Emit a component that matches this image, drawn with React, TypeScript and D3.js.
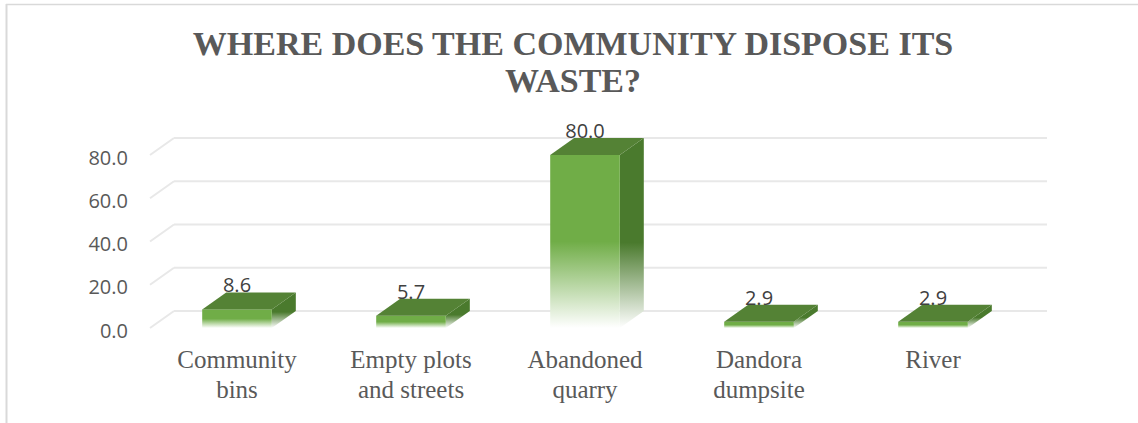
import React from "react";
import * as d3 from "d3";

const categories: string[][] = [
  ["Community", "bins"],
  ["Empty plots", "and streets"],
  ["Abandoned", "quarry"],
  ["Dandora", "dumpsite"],
  ["River"],
];
const values: number[] = [8.6, 5.7, 80.0, 2.9, 2.9];
const yTicks: number[] = [0, 20, 40, 60, 80];
const titleLines: string[] = ["WHERE DOES THE COMMUNITY DISPOSE ITS", "WASTE?"];

const W = 1138;
const H = 423;

// 3D depth offset of the back wall relative to the front plane
const DX = 24;
const DY = -17;

const plotLeft = 150;
const plotRight = 1020;
const wallRight = 1047;

export default function App() {
  const keys = categories.map((c) => c.join(" "));
  const x = d3
    .scaleBand<string>()
    .domain(keys)
    .range([plotLeft, plotRight])
    .paddingInner(0.6)
    .paddingOuter(0.3);
  const y = d3.scaleLinear().domain([0, 80]).range([328, 155]);

  const textGrey = "#595959";
  const fmt = d3.format(".1f");

  return (
    <div style={{ position: "absolute", left: 0, top: 0 }}>
      <svg width={W} height={H} style={{ display: "block", background: "#fff" }}>
        <defs>
          <linearGradient id="frontGrad" x1="0" y1="0" x2="0" y2="1">
            <stop offset="0" stopColor="#70AD47" />
            <stop offset="0.5" stopColor="#70AD47" />
            <stop offset="1" stopColor="#ffffff" />
          </linearGradient>
          <linearGradient id="sideGrad" x1="0" y1="0" x2="0" y2="1">
            <stop offset="0" stopColor="#4A7A2D" />
            <stop offset="0.55" stopColor="#4A7A2D" />
            <stop offset="1" stopColor="#ffffff" />
          </linearGradient>
        </defs>

        {/* chart frame */}
        <line x1={6.5} y1={4} x2={6.5} y2={H} stroke="#D9D9D9" strokeWidth={2} />
        <line x1={6} y1={4.5} x2={W} y2={4.5} stroke="#D9D9D9" strokeWidth={1.5} />

        {/* title */}
        <text
          x={573}
          textAnchor="middle"
          fontFamily="'Liberation Serif', 'Times New Roman', serif"
          fontWeight="bold"
          fontSize={34}
          fill={textGrey}
        >
          {titleLines.map((t, i) => (
            <tspan key={i} x={573} y={55 + i * 37}>
              {t}
            </tspan>
          ))}
        </text>

        {/* gridlines: floor diagonal + back wall */}
        {yTicks.map((t) => (
          <g key={t} stroke="#E8E8E8" strokeWidth={2} fill="none">
            <line x1={plotLeft} y1={y(t)} x2={plotLeft + DX} y2={y(t) + DY} />
            <line x1={plotLeft + DX} y1={y(t) + DY} x2={wallRight} y2={y(t) + DY} />
          </g>
        ))}

        {/* y tick labels */}
        {yTicks.map((t) => (
          <text
            key={t}
            x={128}
            y={y(t) + 2}
            textAnchor="end"
            dominantBaseline="central"
            fontFamily="'Open Sans', sans-serif"
            fontSize={20}
            fill={textGrey}
          >
            {fmt(t)}
          </text>
        ))}

        {/* 3D columns */}
        {values.map((v, i) => {
          const x0 = x(keys[i])!;
          const x1 = x0 + x.bandwidth();
          const yt = y(v);
          const yb = y(0);
          const top = [
            [x0, yt],
            [x1, yt],
            [x1 + DX, yt + DY],
            [x0 + DX, yt + DY],
          ];
          const side = [
            [x1, yt],
            [x1 + DX, yt + DY],
            [x1 + DX, yb + DY],
            [x1, yb],
          ];
          return (
            <g key={i}>
              <polygon points={side.map((p) => p.join(",")).join(" ")} fill="url(#sideGrad)" />
              <rect x={x0} y={yt} width={x1 - x0} height={yb - yt} fill="url(#frontGrad)" />
              <polygon points={top.map((p) => p.join(",")).join(" ")} fill="#548235" />
            </g>
          );
        })}

        {/* value labels */}
        {values.map((v, i) => (
          <text
            key={i}
            x={x(keys[i])! + x.bandwidth() / 2}
            y={y(v) + DY}
            textAnchor="middle"
            fontFamily="'Open Sans', sans-serif"
            fontSize={20}
            fill="#404040"
          >
            {fmt(v)}
          </text>
        ))}

        {/* category labels */}
        {categories.map((lines, i) => (
          <text
            key={i}
            textAnchor="middle"
            fontFamily="'Liberation Serif', 'Times New Roman', serif"
            fontSize={25}
            fill={textGrey}
          >
            {lines.map((l, j) => (
              <tspan key={j} x={x(keys[i])! + x.bandwidth() / 2} y={368 + j * 30}>
                {l}
              </tspan>
            ))}
          </text>
        ))}
      </svg>
    </div>
  );
}
